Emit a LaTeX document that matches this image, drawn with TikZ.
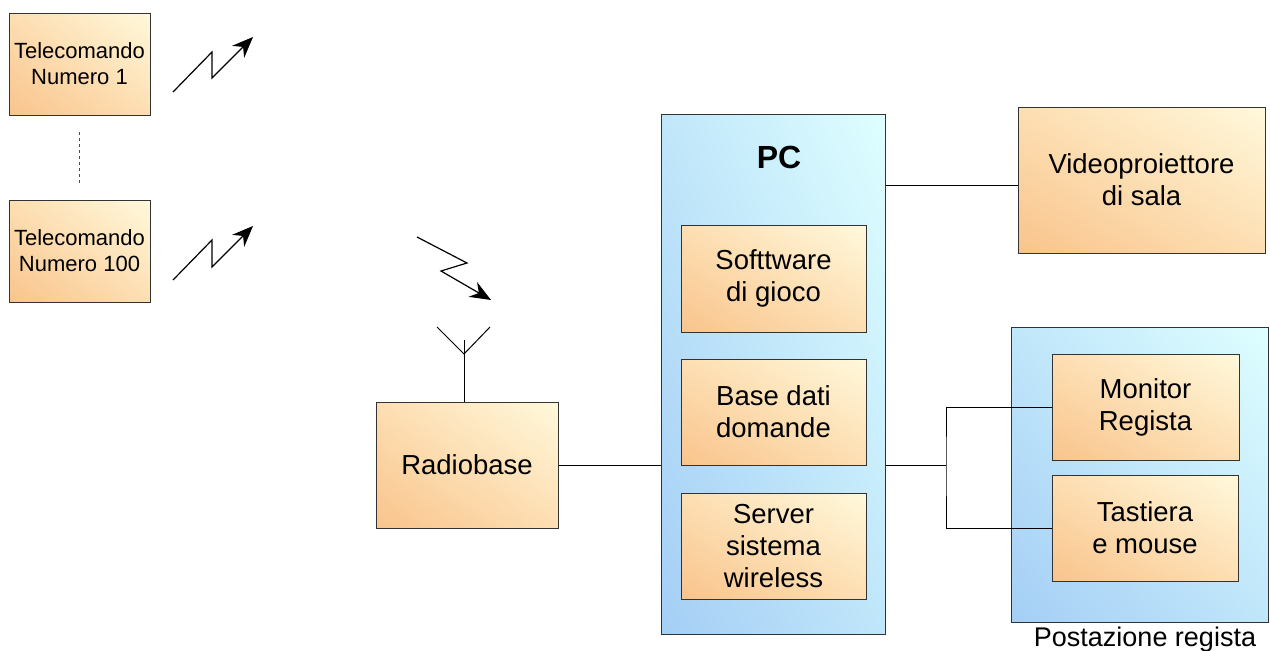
\documentclass[tikz,border=0pt]{standalone}
\usepackage{fontspec}
\setmainfont{Liberation Sans}
\usetikzlibrary{arrows.meta,shadings}
\definecolor{orA}{RGB}{249,196,140}
\definecolor{orB}{RGB}{255,249,220}
\definecolor{orM}{RGB}{253,222,178}
\definecolor{blA}{RGB}{164,206,245}
\definecolor{blB}{RGB}{222,255,255}
\definecolor{blM}{RGB}{192,230,250}
\tikzset{
  obox/.style={draw=black!80, line width=1pt, inner sep=0pt, align=center,
    lower left=orA, upper right=orB, upper left=orM, lower right=orM,
    font=\fontsize{27.5}{32}\selectfont},
  smallbox/.style={obox, font=\fontsize{22}{26}\selectfont},
  bbox/.style={draw=black!80, line width=1pt, inner sep=0pt,
    lower left=blA, upper right=blB, upper left=blM, lower right=blM},
  wire/.style={line width=1pt},
  bolt/.style={line width=1.2pt, -{Stealth[length=21pt,width=17pt,inset=7pt]}},
}
\begin{document}
\begin{tikzpicture}[x=1pt,y=-1pt]
\useasboundingbox (0,0) rectangle (1270,651);
% containers
\node[bbox, minimum width=224pt, minimum height=520pt] (pc) at (773,374) {};
\node[font=\fontsize{32}{36}\selectfont\bfseries] (pclabel) at (779,157) {PC};
\node[bbox, minimum width=257pt, minimum height=295pt] (post) at (1139.5,474.5) {};
\node[font=\fontsize{27}{30}\selectfont, anchor=north] (postlabel) at (1145,623) {Postazione regista};
% boxes
\node[smallbox, minimum width=141pt, minimum height=102pt] (t1) at (79.5,64) {Telecomando\\Numero 1};
\node[smallbox, minimum width=141pt, minimum height=102pt] (t100) at (79.5,251) {Telecomando\\Numero 100};
\node[obox, minimum width=182pt, minimum height=126pt] (radio) at (467,465) {Radiobase};
\node[obox, minimum width=185pt, minimum height=107pt] (soft) at (773.5,278.5) {Softtware\\di gioco};
\node[obox, minimum width=185pt, minimum height=106pt] (base) at (773.5,412) {Base dati\\domande};
\node[obox, minimum width=185pt, minimum height=106pt] (server) at (773.5,546) {Server\\sistema\\wireless};
\node[obox, minimum width=247pt, minimum height=146pt] (video) at (1141.5,180) {Videoproiettore\\di sala};
\node[obox, minimum width=187pt, minimum height=106pt] (mon) at (1145.5,407) {Monitor\\Regista};
\node[obox, minimum width=186pt, minimum height=106pt] (tast) at (1145,528) {Tastiera\\e mouse};
% dotted line between remotes
\draw[line width=1pt, dash pattern=on 3pt off 3pt, black!70] (79,132) -- (79,185);
% bolts
\coordinate (b1s) at (173,92);
\coordinate (b1e) at (253,37);
\draw[bolt] (b1s) -- (212,52) -- (212,78) -- (b1e);
\coordinate (b2s) at (173,280);
\coordinate (b2e) at (253,226);
\draw[bolt] (b2s) -- (212,240) -- (212,267) -- (b2e);
\coordinate (b3s) at (417,237);
\coordinate (b3e) at (491,300);
\draw[bolt] (b3s) -- (467,263) -- (441,271) -- (b3e);
% antenna
\coordinate (antj) at (464,354);
\draw[wire] (radio.north -| antj) -- (464,340);
\draw[wire] (437,327) -- (antj) -- (490,327);
% connectors
\draw[wire] (radio.east) -- (radio.east -| pc.west);
\coordinate (vlink) at (1018,185);
\draw[wire] (pc.east |- vlink) -- (vlink);
\coordinate (split) at (946,465);
\draw[wire] (pc.east |- split) -- (split);
\draw[wire] (mon.west) -| (split) |- (tast.west);
\end{tikzpicture}
\end{document}
